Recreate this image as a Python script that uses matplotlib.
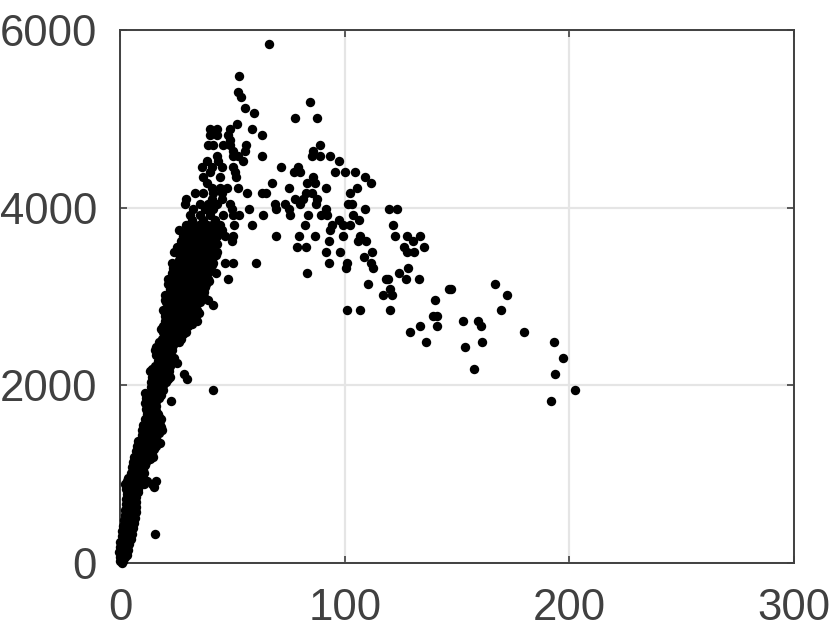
import matplotlib
matplotlib.use("Agg")
import matplotlib.pyplot as plt

plt.rcParams['font.family'] = ['Liberation Sans', 'DejaVu Sans']

x_ticks = [0, 100, 200, 300]
y_ticks = [0, 2000, 4000, 6000]

# Points, grouped by the (quantised) value on the y axis
y_levels = [5843, 5483, 5303, 5243, 5184, 5123, 5063, 5004, 4943, 4883, 4823, 4763, 4703, 4643, 4583,
            4523, 4463, 4403, 4343, 4283, 4223, 4163, 4103, 4043, 3983, 3923, 3863]
x_at_level = [
    [66.2], [52.7], [52.2], [53.6], [84.5], [55.7], [59.5], [77.8, 87.6], [51.8],
    [40, 42.9, 48.8, 58.6], [40, 42.9, 48.1, 62.9], [48.8],
    [39.1, 41.4, 45.5, 48.8, 56, 89.1], [50.3, 55.4, 86],
    [42.9, 50, 52.5, 63.2, 85.5, 89.1, 93.4], [38.4, 43.6, 54.8, 97.6],
    [36.2, 40.6, 45.1, 50, 71.5, 79.1], [39.9, 51, 77.4, 80.2, 95.6, 99.9, 104.5],
    [36.9, 44.4, 51.5, 86, 109], [38.4, 67.5, 83, 86.9, 111.5],
    [40.6, 44.4, 47.3, 52.5, 75.3, 91.8, 105.6],
    [33.2, 36.9, 41.4, 45.1, 56.5, 62.9, 64.9, 82.7, 85.2, 102.3],
    [29.2, 40.6, 45.1, 77.8, 81.5, 87.5],
    [28.8, 35.4, 39.1, 42.9, 48.8, 68.7, 73.5, 80, 87.2, 101.6, 103.2],
    [32.5, 37.7, 41.4, 49.6, 57.3, 69.2, 75, 91.5, 109, 119.6, 123.1],
    [31, 35.4, 39.9, 45.8, 50.3, 53, 63.7, 75.6, 83.5, 89.2, 92.2, 103.5],
    [31.7, 36.9, 42.1, 97.3, 106.3],
]

y_levels += [3803, 3743, 3683, 3623, 3562, 3502, 3442, 3382, 3322, 3262, 3202, 3142, 3082, 3022,
             2962, 2906, 2846, 2786, 2726, 2666, 2606, 2546, 2486, 2426, 2366, 2306, 2246, 2186,
             2126, 2066, 2006, 1946, 1886, 1826, 1766, 1706, 1646, 1586, 1526, 1466, 1406, 1346,
             1286, 1226, 1166, 1106, 1046, 986, 926, 860, 800, 747, 690, 630, 570, 510, 450, 390,
             330, 270, 210, 150, 90, 40, 5]
x_at_level += [
    [29, 32, 35, 38.4, 41, 44.4, 50.6, 58.8, 82.4, 94.1, 99, 102.3, 121.6],
    [26, 30, 33, 36.9, 39, 42, 45.1, 93.3],
    [28, 32.5, 34, 39.1, 43, 46.6, 50.3, 69.2, 79.4, 86.6, 99.2, 106.8, 122.4, 127.7, 133.7],
    [27, 31, 33, 37.7, 39, 42, 49.6, 93.1, 105.7, 109.5, 130.3],
    [25, 29.5, 31, 35.4, 37, 40.6, 78.5, 82.9, 126.5, 135.2],
    [24, 28, 32.5, 33, 36, 38.4, 42.9, 91.6, 97.7, 112.3, 127.7, 130.8],
    [26.5, 28, 31, 34, 36.2, 41.4, 108.4],
    [23, 26, 29, 32, 35, 38, 41.4, 46.6, 50, 60.6, 93, 101.1, 111.8],
    [23.5, 25, 28, 31, 33.2, 38.4, 39, 100.7, 112.4, 128.2],
    [22.8, 25, 27.3, 31, 32.5, 37, 42.7, 83, 124.3],
    [21, 25, 27, 29.5, 33, 35.4, 39, 48.1, 118.4, 119.3, 127.3, 133.1],
    [21, 23, 26, 29, 32, 35, 38, 110.5, 167],
    [22, 25, 28, 31, 34, 36, 120.2, 146.5, 147.4],
    [20, 23, 26, 29, 32, 35, 116.9, 121.2, 172.3],
    [20, 23, 26, 29, 32, 35, 39, 140.1],
    [21, 24, 27, 30, 33, 41.1],
    [19, 22, 25, 28, 31, 34, 100.8, 106.8, 120.2, 169.6],
    [20, 23, 26, 29, 32, 139.5, 141],
    [20, 22, 25, 28, 31, 34, 152.7, 159.4],
    [19, 22, 25, 28, 30, 133.4, 141, 160.7],
    [19, 21, 24, 27, 29, 128.9, 179.9],
    [20, 23, 26],
    [17, 20, 23, 26, 136.2, 161.2, 193.3],
    [16, 19, 22, 153.6],
    [17, 19, 21],
    [17, 20, 24, 197.3],
    [18, 21, 25],
    [14, 17, 20, 157.6],
    [15, 18, 21, 28.5, 193.7],
    [15, 18, 21, 29.5],
    [15, 17, 19],
    [15, 17, 19, 41.1, 202.6],
    [12, 14, 16, 18],
    [12, 14, 16, 22.5, 192],
    [12, 14, 16],
    [12, 14, 16],
    [13, 15, 17],
    [12, 14, 16, 17],
    [10.5, 13, 15, 18],
    [11, 13, 15, 17],
    [10, 12, 14, 16],
    [8.5, 11, 13, 15, 17.5],
    [8.5, 11, 13, 15],
    [8, 10, 12, 14],
    [6.5, 9, 11, 13],
    [6.5, 8.5, 11],
    [6, 8, 10],
    [5, 7, 9],
    [3, 5, 7, 9, 12, 16],
    [3, 5, 7, 15],
    [4, 6, 8],
    [4, 6, 7],
    [3.5, 5, 7],
    [3, 5, 7],
    [3, 5, 7],
    [2.5, 4.5, 6.5],
    [2, 4, 6],
    [1.5, 3.5, 5.5],
    [1.5, 3, 5, 15.4],
    [1, 3, 4.5],
    [1, 2.5, 4],
    [1, 2, 3.5],
    [0.5, 1.5, 3],
    [0.5, 1],
    [0.5],
]

# Extra points inside the solid part of the band
y_levels += [3713, 3653, 3593, 3532, 3472, 3412, 3352, 3292, 3232, 3172, 3112, 3052, 2992, 2934,
             2876, 2816, 2756, 2696, 2636, 2576, 2516, 2456, 2396, 2336, 2276, 2216, 2156, 2096,
             2036, 1976, 1916, 1856, 1796, 1736, 1676, 1616, 1556, 1496, 1436, 1376, 1316, 1256,
             1196, 1136, 1076, 1016, 956, 893, 830, 773, 718, 660, 600, 540, 480, 420, 360, 300,
             240, 180, 120, 65, 20]
x_at_level += [
    [29.5, 33, 36, 38.5, 41], [30, 32.5, 35.5, 38, 40.5], [28, 31.5, 34.5, 37, 39.5, 43],
    [27, 30.5, 34, 37, 40], [26.5, 29.5, 33, 35.5, 38.5, 42.5], [26, 29, 32.5, 36, 39],
    [25, 28.5, 31.5, 35, 38, 41], [24.5, 27, 30, 33.5, 36.5, 40], [23.5, 26.5, 29.5, 33, 36.5],
    [23, 26, 29.5, 32.5, 36, 39.5], [24, 26.5, 29.5, 32.5, 35.5, 37.5], [22, 25, 28, 31, 34, 37],
    [21.5, 24.5, 27.5, 30.5, 33.5, 37], [20.5, 23, 26, 29, 32, 35.5], [21, 23.5, 27, 30, 33],
    [20, 24, 27, 30, 33, 35], [21, 24, 27, 30, 33], [20.5, 23.5, 26.5, 29.5, 32],
    [18, 20.5, 23.5, 26.5, 28.5], [19.5, 22.5, 25, 28], [18.5, 21.5, 24.5, 27],
    [17.5, 20.5, 23.5], [15.5, 18, 21, 23], [16, 18.5, 22], [16.5, 19, 22.5],
    [15.5, 18.5, 22], [13, 15.5, 18.5, 21.5], [14, 16.5, 19.5, 22], [13.5, 16, 18, 20.5],
    [13.5, 16, 18.5], [11, 13, 15, 17], [11.5, 13, 15, 17], [11, 13, 15], [11.5, 13.5, 15.5],
    [12, 14, 16.5], [11, 13, 15, 18], [10, 12, 14.5, 17.5], [9.5, 12, 14, 16.5, 18.5],
    [9.5, 11.5, 13.5, 15.5], [8, 10, 12, 14, 16], [7.5, 9.5, 12, 14, 16], [7, 9, 11, 13],
    [6, 8, 10, 12, 14.5], [5.5, 7.5, 9.5, 11.5], [5, 7.5, 9.5], [4.5, 6.5, 8.5, 10.5],
    [3.5, 6, 8, 10], [2, 4, 6, 8, 10.5, 14], [2.5, 4, 6, 8], [3, 5, 7], [2.5, 4.5, 6],
    [2.5, 4, 6], [2, 4, 6.5], [2, 3.5, 6], [1.5, 3.5, 5.5], [1, 3, 5], [0.5, 2.5, 4.5],
    [0.5, 2, 3.5], [0, 2, 4], [0, 1.5, 3], [-0.5, 1, 2.5], [0, 1, 2], [0, 1],
]

xs = [x for row in x_at_level for x in row]
ys = [y for level, row in zip(y_levels, x_at_level) for y in [level] * len(row)]

W, H = 831, 640
fig = plt.figure(figsize=(W / 100, H / 100), dpi=100)
ax = fig.add_axes([120.5 / W, (H - 563) / H, 673 / W, 533 / H])

dark = '#404040'
ax.set_axisbelow(True)
ax.grid(True, color='#e5e5e5', linewidth=1.6)
ax.scatter(xs, ys, s=46, color='black', linewidths=0, zorder=3, clip_on=False)

ax.set_xlim(0, 300)
ax.set_ylim(0, 6000)
ax.set_xticks(x_ticks)
ax.set_yticks(y_ticks)
ax.tick_params(axis='both', direction='in', length=5, width=1.2, color=dark,
               labelcolor=dark, labelsize=31.5, top=True, right=True)
ax.tick_params(axis='x', pad=18)
ax.tick_params(axis='y', pad=17)
for s in ax.spines.values():
    s.set_color(dark)
    s.set_linewidth(1.4)

fig.savefig('out.png', dpi=100)
